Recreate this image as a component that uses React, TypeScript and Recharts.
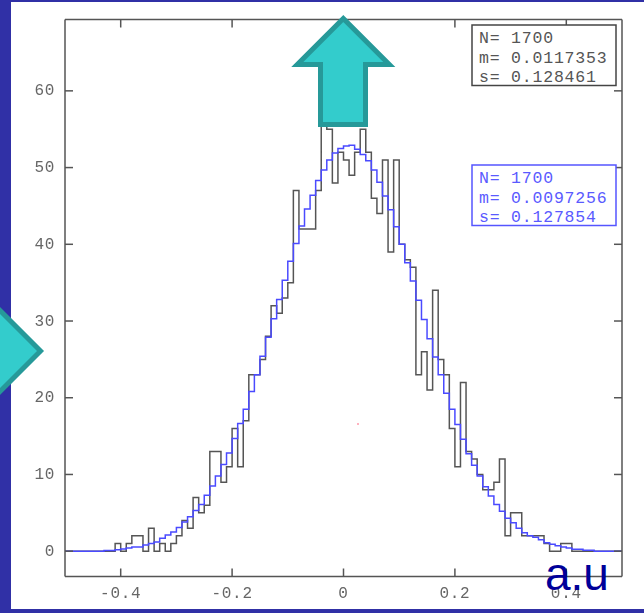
import React from "react";
import { ComposedChart, Line, XAxis, YAxis } from "recharts";

const xTicks = [-0.4, -0.2, 0, 0.2, 0.4];
const yTicks = [0, 10, 20, 30, 40, 50, 60];

// 100 bins of width 0.01, from -0.50 to 0.49
const blackCounts = [
  0, 0, 0, 0, 0, 0, 0, 0, 0, 1,
  0, 1, 2, 2, 0, 3, 0, 1, 0, 1,
  2, 4, 3, 7, 5, 6, 13, 13, 9, 11,
  16, 11, 17, 23, 23, 25, 28, 32, 31, 33,
  35, 47, 42, 42, 42, 47, 57, 55, 48, 52,
  51, 49, 52, 55, 52, 46, 44, 51, 39, 51,
  40, 38, 37, 23, 26, 21, 34, 25, 23, 16,
  11, 22, 13, 12, 10, 8, 8, 9, 12, 2,
  5, 5, 2, 2, 2, 2, 1, 0, 0, 1,
  1, 0, 0, 0, 0, 0, 0, 0, 0, 0,
];
const blueCounts = [
  0, 0, 0, 0, 0, 0, 0, 0.1, 0.1, 0.2,
  0.3, 0.43, 0.55, 0.55, 0.8, 1, 1.2, 1.7, 2.1, 2.5,
  3.1, 3.8, 4.5, 5.3, 6.1, 7.3, 8.5, 9.8, 11.3, 12.8,
  14.7, 16.65, 18.5, 20.8, 23, 25.4, 27.9, 30.3, 32.8, 35.3,
  37.8, 40.1, 42.4, 44.6, 46.4, 48.3, 49.7, 51, 51.9, 52.5,
  52.8, 52.9, 52.4, 51.7, 50.9, 49.7, 48.1, 46.3, 44.5, 42.3,
  40, 37.6, 35.2, 32.7, 30.2, 27.7, 25.3, 23, 20.6, 18.5,
  16.5, 14.6, 12.7, 11.2, 9.8, 8.4, 7.2, 6.1, 5.2, 4.3,
  3.7, 3, 2.4, 2, 1.8, 1.5, 1.1, 0.9, 0.7, 0.55,
  0.4, 0.25, 0.25, 0.13, 0.13, 0, 0, 0, 0, 0,
];

const blackStats = ["N= 1700", "m= 0.0117353", "s= 0.128461"];
const blueStats = ["N= 1700", "m= 0.0097256", "s= 0.127854"];

const rows = blackCounts.map((b, i) => ({ edge: (i - 50) / 100, black: b, blue: blueCounts[i] }));
rows.push({ edge: 0.5, black: blackCounts[99], blue: blueCounts[99] });

const AXIS = "#555";
const mono = "'Liberation Mono', monospace";
const X_DOMAIN: [number, number] = [-0.5, 0.5];
const Y_DOMAIN: [number, number] = [-3.3, 69.3];
const TICK_LEN = 8;

function BottomTick({ x, y, payload }: any) {
  return (
    <g>
      <line x1={x} x2={x} y1={y} y2={y - TICK_LEN} stroke={AXIS} strokeWidth={1.5} />
      <text x={x} y={y + 21} textAnchor="middle" fontFamily={mono} fontSize={16} letterSpacing={0.7} fill="#666">
        {String(payload.value)}
      </text>
    </g>
  );
}
function TopTick({ x, y }: any) {
  return <line x1={x} x2={x} y1={y} y2={y + TICK_LEN} stroke={AXIS} strokeWidth={1.5} />;
}
function LeftTick({ x, y, payload }: any) {
  return (
    <g>
      <line x1={x} x2={x + TICK_LEN} y1={y} y2={y} stroke={AXIS} strokeWidth={1.5} />
      <text x={x - 10} y={y + 4.5} textAnchor="end" fontFamily={mono} fontSize={16} letterSpacing={0.7} fill="#666">
        {String(payload.value)}
      </text>
    </g>
  );
}
function RightTick({ x, y }: any) {
  return <line x1={x} x2={x - TICK_LEN} y1={y} y2={y} stroke={AXIS} strokeWidth={1.5} />;
}

function StatBox({ x, y, lines, color, textColor }: { x: number; y: number; lines: string[]; color: string; textColor: string }) {
  return (
    <g>
      <rect x={x} y={y} width={144} height={60.5} fill="#fff" stroke={color} strokeWidth={1.5} />
      {lines.map((l, i) => (
        <text key={i} x={x + 7} y={y + 18 + i * 19.5} fontFamily={mono} fontSize={16.5} letterSpacing={0.8} fill={textColor} xmlSpace="preserve">
          {l}
        </text>
      ))}
    </g>
  );
}

export default function App() {
  return (
    <div style={{ position: "absolute", left: 0, top: 0, width: 644, height: 613, background: "#3030a6", overflow: "hidden" }}>
      <div style={{ position: "absolute", left: 11, top: 2, width: 633, height: 607, background: "#fff" }} />
      <div style={{ position: "absolute", left: 0, top: 0, filter: "blur(0.35px)" }}>
        <ComposedChart width={644} height={613} data={rows} margin={{ top: 18.5, right: 21, bottom: 0, left: 0 }}>
          <XAxis
            xAxisId="b"
            dataKey="edge"
            type="number"
            domain={X_DOMAIN}
            ticks={xTicks}
            height={36.5}
            stroke={AXIS}
            strokeWidth={1.5}
            tickLine={false}
            tickSize={0}
            tickMargin={0}
            tick={BottomTick}
            interval={0}
          />
          <XAxis
            xAxisId="t"
            orientation="top"
            dataKey="edge"
            type="number"
            domain={X_DOMAIN}
            ticks={xTicks}
            height={1}
            stroke={AXIS}
            strokeWidth={1.5}
            tickLine={false}
            tickSize={0}
            tickMargin={0}
            tick={TopTick}
            interval={0}
          />
          <YAxis
            yAxisId="l"
            type="number"
            domain={Y_DOMAIN}
            ticks={yTicks}
            width={65}
            stroke={AXIS}
            strokeWidth={1.5}
            tickLine={false}
            tickSize={0}
            tickMargin={0}
            tick={LeftTick}
            interval={0}
            allowDataOverflow
          />
          <YAxis
            yAxisId="r"
            orientation="right"
            type="number"
            domain={Y_DOMAIN}
            ticks={yTicks}
            width={1}
            stroke={AXIS}
            strokeWidth={1.5}
            tickLine={false}
            tickSize={0}
            tickMargin={0}
            tick={RightTick}
            interval={0}
            allowDataOverflow
          />
          <Line xAxisId="b" yAxisId="l" dataKey="black" type="stepAfter" stroke="#555" strokeWidth={1.5} dot={false} isAnimationActive={false} />
          <Line xAxisId="b" yAxisId="l" dataKey="blue" type="stepAfter" stroke="#4a4aff" strokeWidth={1.5} dot={false} isAnimationActive={false} />
        </ComposedChart>
      </div>
      <svg width={644} height={613} style={{ position: "absolute", left: 0, top: 0 }}>
        <StatBox x={472} y={25} lines={blackStats} color="#444" textColor="#555" />
        <StatBox x={472} y={165} lines={blueStats} color="#5555ff" textColor="#5a5aff" />
        <circle cx={358} cy={424} r={1} fill="#f9a" />
        <polygon
          points="343.3,18.5 389.3,64.5 365.5,64.5 365.5,124.5 320.5,124.5 320.5,64.5 297.3,64.5"
          fill="#33cccc"
          stroke="#269999"
          strokeWidth={5}
        />
        <polygon points="-5,305.5 40.5,351 -5,396.5" fill="#33cccc" stroke="#269999" strokeWidth={5} />
        <text x={545} y={590} fontFamily="'Liberation Sans', sans-serif" fontSize={46} fill="#000099">
          a.u
        </text>
      </svg>
    </div>
  );
}
